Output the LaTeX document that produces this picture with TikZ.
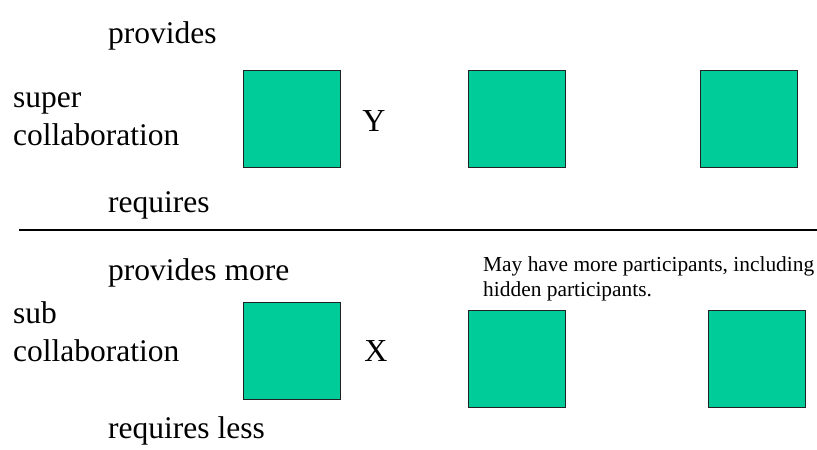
\documentclass[tikz,border=0pt]{standalone}
\usepackage{fontspec}
\setmainfont{Liberation Serif}
\usetikzlibrary{positioning}
\definecolor{partFill}{HTML}{00cc99}
\definecolor{partStroke}{HTML}{222222}

\begin{document}
\begin{tikzpicture}[
  x=1pt, y=-1pt,
  part/.style ={draw=partStroke, fill=partFill, line width=1.1pt, minimum width=97pt, minimum height=97pt, inner sep=0pt, anchor=north west},
  lbl/.style  ={font=\fontsize{31.5}{38}\selectfont, inner sep=0pt, anchor=base west, align=left},
  role/.style ={font=\fontsize{32}{38}\selectfont, inner sep=0pt, anchor=base},
  note/.style ={font=\fontsize{21.4}{25}\selectfont, inner sep=0pt, anchor=base west, align=left},
]
\useasboundingbox (0,0) rectangle (817,450);

% ==================== Top: super collaboration ====================
\node[part] (sup1) at (243,70)  {};
\node[part] (sup2) at (468,70)  {};
\node[part] (sup3) at (700,70)  {};
\node[role] (roleY) at (374,131) {Y};

\node[lbl] (prov)   at (108,43)  {provides};
\node[lbl] (supcol) at (13,145)  {super\\collaboration};
\node[lbl] (req)    at (108,212) {requires};

% ==================== Separator ====================
\coordinate (sepL) at (19,230);
\coordinate (sepR) at (817,230);
\draw[line width=1.5pt] (sepL) -- (sepR);

% ==================== Bottom: sub collaboration ====================
\node[part] (sub1) at (243,302) {};
\node[part] (sub2) at (468,310) {};
\node[part] (sub3) at (708,310) {};
\node[role] (roleX) at (376,361) {X};

\node[lbl] (provmore) at (108,280) {provides more};
\node[lbl] (subcol)   at (13,361)  {sub\\collaboration};
\node[lbl] (reqless)  at (108,438) {requires less};

\node[note] (hidden) at (483,296) {May have more participants, including\\hidden participants.};

\end{tikzpicture}
\end{document}
